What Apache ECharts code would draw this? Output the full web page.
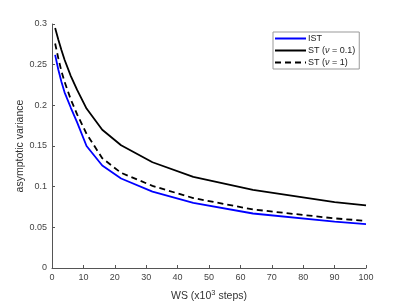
<!DOCTYPE html>
<html>
<head>
<meta charset="utf-8">
<script src="https://cdn.jsdelivr.net/npm/echarts@6/dist/echarts.min.js"></script>
<style>
html,body{margin:0;padding:0;background:#fff;}
#c{width:404px;height:303px;}
</style>
</head>
<body>
<div id="c"></div>
<script>
var ws = [1, 2, 3, 4, 6, 8, 11, 16, 22, 32, 45, 64, 90, 100];
var ist = [0.262, 0.244, 0.229, 0.216, 0.197, 0.179, 0.150, 0.126, 0.110, 0.094, 0.080, 0.067, 0.057, 0.054];
var st01 = [0.295, 0.281, 0.268, 0.256, 0.236, 0.219, 0.196, 0.170, 0.151, 0.130, 0.112, 0.096, 0.081, 0.077];
var st1 = [0.276, 0.258, 0.242, 0.229, 0.207, 0.189, 0.165, 0.135, 0.117, 0.101, 0.086, 0.072, 0.061, 0.058];
var names = ['IST', 'ST (ν = 0.1)', 'ST (ν = 1)'];

function pairs(ys){ return ws.map(function(x,i){ return [x, ys[i]]; }); }

var axisCol = '#555555';
var font = 'Liberation Sans, Arial, sans-serif';
var chart = echarts.init(document.getElementById('c'), null, {renderer:'canvas'});
chart.setOption({
  animation: false,
  backgroundColor: '#ffffff',
  grid: {left: 52, right: 38, top: 24, bottom: 35, containLabel: false, outerBoundsMode: 'none'},
  legend: {
    data: names,
    orient: 'vertical',
    left: 273, top: 32,
    padding: [2, 4, 2, 1],
    itemWidth: 31, itemHeight: 8, itemGap: 3,
    borderColor: '#999999', borderWidth: 1,
    backgroundColor: '#ffffff',
    itemStyle: {color: 'rgba(0,0,0,0)', borderColor: 'rgba(0,0,0,0)', borderWidth: 0},
    textStyle: {fontFamily: font, fontSize: 9, color: '#222', padding: [0,0,0,-3],
      rich: {i: {fontFamily: font, fontSize: 9, fontStyle: 'italic', color: '#222'}}},
    formatter: function(n){ return n.replace('ν', '{i|ν}'); }
  },
  xAxis: {
    type: 'value', min: 0, max: 100, interval: 10,
    name: 'WS (x10{sup|3} steps)', nameLocation: 'middle', nameGap: 21, nameMoveOverlap: false,
    nameTextStyle: {fontFamily: font, fontSize: 10.5, color: '#333',
      rich: {sup: {fontFamily: font, fontSize: 7.5, color: '#333', padding: [0,0,6,0]}}},
    axisLine: {show: true, lineStyle: {color: axisCol, width: 1}},
    axisTick: {show: true, inside: true, length: 3, lineStyle: {color: axisCol}},
    axisLabel: {fontFamily: font, fontSize: 9, color: '#444', margin: 5},
    splitLine: {show: false}
  },
  yAxis: {
    type: 'value', min: 0, max: 0.3, interval: 0.05,
    name: 'asymptotic variance', nameLocation: 'middle', nameGap: 26, nameMoveOverlap: false,
    nameTextStyle: {fontFamily: font, fontSize: 10.5, color: '#333'},
    axisLine: {show: true, lineStyle: {color: axisCol, width: 1}},
    axisTick: {show: true, inside: true, length: 3, lineStyle: {color: axisCol}},
    axisLabel: {fontFamily: font, fontSize: 9, color: '#444', margin: 5},
    splitLine: {show: false}
  },
  series: [
    {name: names[0], type: 'line', data: pairs(ist), symbol: 'none',
     lineStyle: {color: '#0000ff', width: 1.8}, itemStyle: {color: '#0000ff'}},
    {name: names[1], type: 'line', data: pairs(st01), symbol: 'none',
     lineStyle: {color: '#000000', width: 1.8}, itemStyle: {color: '#000000'}},
    {name: names[2], type: 'line', data: pairs(st1), symbol: 'none',
     lineStyle: {color: '#000000', width: 1.8, type: [6, 4]}, itemStyle: {color: '#000000'}}
  ]
});
</script>
</body>
</html>
